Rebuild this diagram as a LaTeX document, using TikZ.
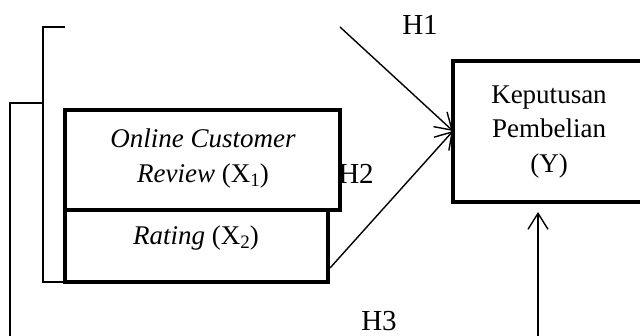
\documentclass[tikz,border=0pt]{standalone}
\usepackage{fontspec}
\setmainfont{Liberation Serif}
\usetikzlibrary{arrows.meta}
\newcommand{\mysub}[1]{\raisebox{-4pt}{\fontsize{19}{19}\selectfont #1}}
\begin{document}
\begin{tikzpicture}[x=1pt,y=-1pt,
  thick box/.style={draw, line width=4.5pt, inner sep=0pt, outer sep=0pt},
  thin line/.style={draw, line width=1.4pt},
  barb/.style={-{Straight Barb[length=16pt,width=20pt,line width=1.4pt]}, line width=1.4pt},
  body/.style={font=\fontsize{27}{35}\selectfont, inner sep=0pt, anchor=base},
  hyp/.style={font=\fontsize{29}{34}\selectfont, inner sep=0pt, anchor=base}]
\useasboundingbox (0,0) rectangle (640,336);
\clip (0,0) rectangle (640,336);
% labels under boxes
\node[hyp] (h2) at (356,184) {H2};
% boxes
\path[thick box] (65,110) rectangle (340,210);
\node[inner sep=0pt] (b1) at (202.5,160) {};
\path[thick box] (65,210) rectangle (328,282);
\node[inner sep=0pt] (b2) at (196.5,246) {};
\path[thick box] (453,61) rectangle (660,202);
\node[inner sep=0pt] (y) at (549,131) {};
% texts
\node[body] (t1) at (203,148) {\itshape Online Customer};
\node[body] (t2) at (203,183) {\itshape Review\upshape\ (X\mysub{1})};
\node[body] (t3) at (196,245) {\itshape Rating\upshape\ (X\mysub{2})};
\node[body] (k1) at (549,104) {Keputusan};
\node[body] (k2) at (549,138) {Pembelian};
\node[body] (k3) at (549,173) {(Y)};
\node[hyp] (h1) at (420,35) {H1};
\node[hyp] (h3) at (379,331) {H3};
% bracket
\coordinate (bt) at (43,23);
\coordinate (btt) at (65,27);
\coordinate (bm) at (43,103);
\coordinate (bl) at (10,103);
\coordinate (blb) at (10,340);
\coordinate (bb) at (43,282);
\coordinate (bbr) at (97,282);
\path[thin line] (btt) -- (43,27) -- (bb) -- (bbr);
\path[thin line] (bm) -- (bl) -- (blb);
% arrows
\coordinate (a1s) at (340,27);
\coordinate (ytip) at (453,131);
\coordinate (a2s) at (330,268);
\coordinate (a3s) at (538,340);
\coordinate (a3e) at (538,212);
\draw[barb] (a1s) -- (ytip);
\draw[barb] (a2s) -- (ytip);
\draw[barb] (a3s) -- (a3e);
\end{tikzpicture}
\end{document}
